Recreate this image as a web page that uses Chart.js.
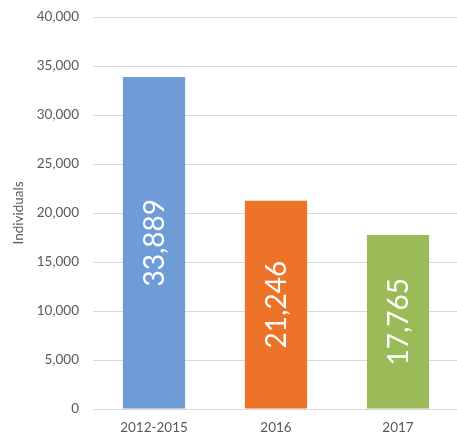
<!DOCTYPE html>
<html>
<head>
<meta charset="utf-8">
<script src="https://cdn.jsdelivr.net/npm/chart.js@4"></script>
<style>
  html, body { margin: 0; padding: 0; background: #fff; overflow: hidden; }
  #wrap { width: 459px; height: 434px; }
</style>
</head>
<body>
<div id="wrap"><canvas id="myChart"></canvas></div>
<script>
// data
const categories = ['2012-2015', '2016', '2017'];
const values = [33889, 21246, 17765];
const barColors = ['#6F9BD6', '#ED7328', '#9BBB59'];

const fontFamily = 'Lato, "Open Sans", sans-serif';

// white rotated labels inside the bars
const barLabels = {
    id: 'barLabels',
    afterDatasetsDraw(chart) {
        const c = chart.ctx;
        const meta = chart.getDatasetMeta(0);
        c.save();
        c.fillStyle = '#ffffff';
        c.font = '28px ' + fontFamily;
        c.textAlign = 'center';
        c.textBaseline = 'middle';
        meta.data.forEach((bar, i) => {
            const y = (bar.y + bar.base) / 2;
            c.save();
            c.translate(bar.x, y);
            c.rotate(-Math.PI / 2);
            c.fillText(values[i].toLocaleString('en-US'), 0, 1);
            c.restore();
        });
        c.restore();
    }
};

const ctx = document.getElementById('myChart').getContext('2d');
const myChart = new Chart(ctx, {
    type: 'bar',
    data: {
        labels: categories,
        datasets: [{
            data: values,
            backgroundColor: barColors,
            barPercentage: 0.51,
            categoryPercentage: 1
        }]
    },
    options: {
        responsive: true,
        maintainAspectRatio: false,
        animation: false,
        layout: {
            padding: { top: 17, right: 0, bottom: 0, left: 0 }
        },
        plugins: {
            legend: { display: false },
            tooltip: { enabled: false }
        },
        scales: {
            x: {
                grid: { display: false, drawTicks: false },
                border: { display: false },
                ticks: {
                    color: '#595959',
                    font: { family: fontFamily, size: 13.5 },
                    padding: 11
                },
                afterFit: s => { s.height = 25; }
            },
            y: {
                min: 0,
                max: 40000,
                grid: { color: '#d9d9d9', drawTicks: false },
                border: { display: false },
                ticks: {
                    stepSize: 5000,
                    color: '#595959',
                    font: { family: fontFamily, size: 13.5 },
                    padding: 14,
                    callback: v => v.toLocaleString('en-US')
                },
                title: {
                    display: true,
                    text: 'Individuals',
                    color: '#595959',
                    font: { family: fontFamily, size: 13.5 },
                    padding: { top: 11, bottom: 0 }
                },
                afterFit: s => {
                    s.width = 93;
                    s.paddingTop = 0;
                    s.paddingBottom = 0;
                }
            }
        }
    },
    plugins: [barLabels]
});
</script>
</body>
</html>
